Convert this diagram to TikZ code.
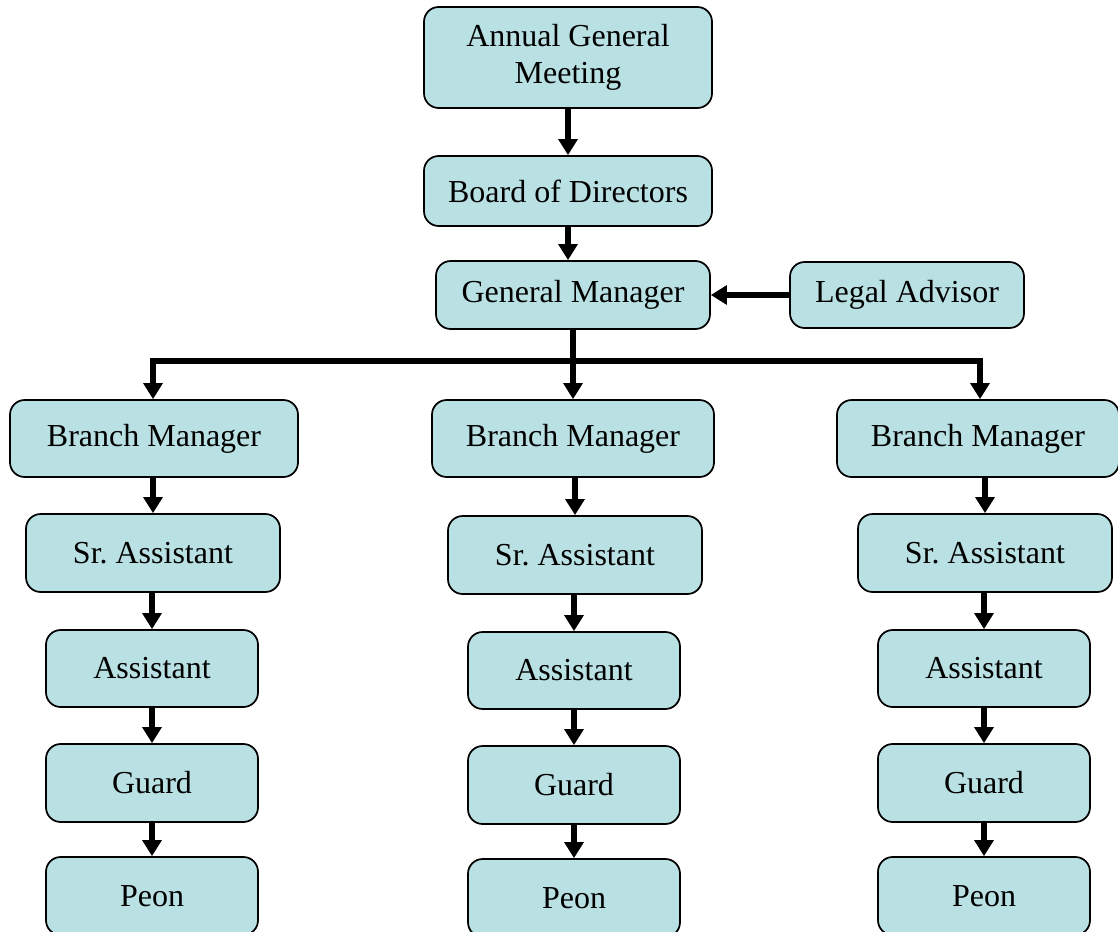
\documentclass[tikz,border=0pt]{standalone}
\usepackage{fontspec}
\setmainfont{Liberation Serif}
\frenchspacing
\usetikzlibrary{arrows.meta}
\definecolor{boxfill}{HTML}{B9E0E3}
\tikzset{
  box/.style={draw=black, fill=boxfill, line width=1.3pt, rounded corners=11pt,
    inner sep=0pt, font=\fontsize{24}{26}\selectfont, align=center},
  link/.style={line width=4.5pt, draw=black},
  arr/.style={link, -{Triangle[length=12pt,width=14pt]}},
}
\begin{document}
\begin{tikzpicture}[x=0.75pt,y=-0.75pt]
\useasboundingbox (0,0) rectangle (1118,932);
\newcommand{\bx}[6]{\node[box, minimum width=#4*0.75pt, minimum height=#5*0.75pt] (#1) at (#2,#3) {#6};}
\bx{agm}{568}{57.5}{288}{101}{Annual General\\[2pt]Meeting}
\bx{bod}{568}{191}{288}{70}{Board of Directors}
\bx{gm}{573}{295}{274}{68}{General Manager}
\bx{legal}{907}{295}{234}{66}{Legal Advisor}
% branch managers
\bx{bml}{154}{438.5}{288}{77}{Branch Manager}
\bx{bmm}{573}{438.5}{282}{77}{Branch Manager}
\bx{bmr}{978}{438.5}{282}{77}{Branch Manager}
% senior assistants
\bx{srl}{153}{553}{254}{78}{Sr. Assistant}
\bx{srm}{575}{555}{254}{78}{Sr. Assistant}
\bx{srr}{985}{553}{254}{78}{Sr. Assistant}
% assistants
\bx{asl}{152}{668.5}{212}{77}{Assistant}
\bx{asm}{574}{670.5}{212}{77}{Assistant}
\bx{asr}{984}{668.5}{212}{77}{Assistant}
% guards
\bx{gdl}{152}{783}{212}{78}{Guard}
\bx{gdm}{574}{785}{212}{78}{Guard}
\bx{gdr}{984}{783}{212}{78}{Guard}
% peons
\bx{pnl}{152}{896}{212}{78}{Peon}
\bx{pnm}{574}{898}{212}{78}{Peon}
\bx{pnr}{984}{896}{212}{78}{Peon}
% connectors
\draw[arr] (agm.south) -- (agm.south |- bod.north);
\draw[arr] (bod.south) -- (bod.south |- gm.north);
\draw[arr] (legal.west) -- (legal.west -| gm.east);
\coordinate (busL) at (153,361);
\coordinate (busR) at (980,361);
\draw[link] (gm.south) -- (gm.south |- busL);
\draw[link, line cap=rect] (busL) -- (busR);
\draw[arr] (busL) -- (busL |- bml.north);
\draw[arr] (gm.south |- busL) -- (bmm.north);
\draw[arr] (busR) -- (busR |- bmr.north);
% columns
\foreach \a/\b in {bml/srl,srl/asl,asl/gdl,gdl/pnl,bmm/srm,srm/asm,asm/gdm,gdm/pnm}{
  \draw[arr] (\b.north |- \a.south) -- (\b.north);
}
\draw[arr] (srr.north |- bmr.south) -- (srr.north);
\draw[arr] (srr.south -| asr.north) -- (asr.north);
\draw[arr] (asr.south) -- (gdr.north);
\draw[arr] (gdr.south) -- (pnr.north);
\end{tikzpicture}
\end{document}
